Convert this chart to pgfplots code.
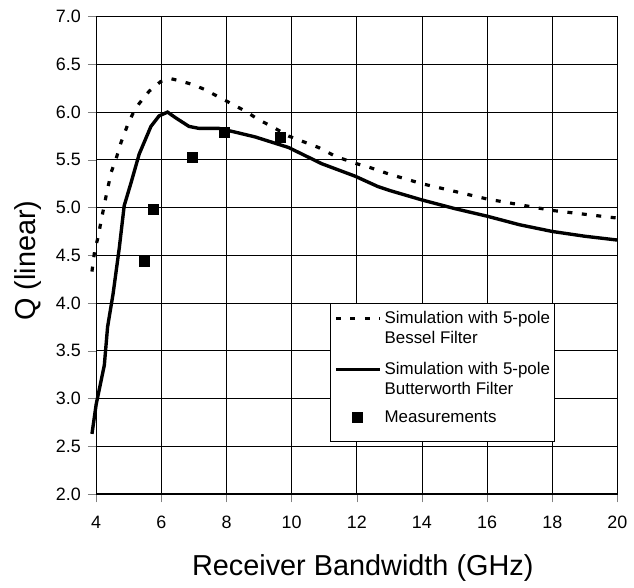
\documentclass[border=0pt]{standalone}
\usepackage{fontspec}
\setmainfont{Liberation Sans}
\usepackage{pgfplots}
\pgfplotsset{compat=1.18}

\begin{document}
\begin{tikzpicture}
\begin{axis}[
  scale only axis, width=262pt, height=240pt,
  xmin=4, xmax=20, ymin=2, ymax=7,
  xtick={4,6,...,20}, ytick={2,2.5,...,7},
  yticklabel style={/pgf/number format/.cd,fixed,fixed zerofill,precision=1},
  xticklabel style={yshift=-3.5pt},
  /pgf/number format/assume math mode=true,
  tick label style={font=\fontsize{9}{10}\selectfont},
  tick align=outside, tick pos=left, major tick length=4.2pt,
  grid=major, grid style={black, line width=0.45pt},
  axis line style={line width=0.6pt},
  clip=false,
  xlabel={Receiver Bandwidth (GHz)}, ylabel={Q (linear)},
  label style={font=\fontsize{14.5}{16}\selectfont},
  x label style={at={(axis description cs:0.5,0)}, anchor=base, yshift=-40.7pt, xshift=3pt},
  y label style={at={(axis description cs:-0.130,0.489)}, anchor=center},
  legend cell align=left,
  legend style={at={(0.450,0.399)}, anchor=north west, draw=none, fill=none,
    font=\fontsize{8.5}{10}\selectfont, nodes={align=left, inner xsep=1.7pt},
    cells={anchor=base west},
    inner ysep=1pt, inner xsep=1.5pt, row sep=12.8pt},
  legend image code/.code={\draw[mark repeat=2, mark phase=2, #1] plot coordinates {(0pt,2.5pt) (11pt,2.5pt) (22pt,2.5pt)};},
]
\coordinate (O) at (rel axis cs:0,0);
% legend frame
\filldraw[fill=white, draw=black, line width=0.5pt]
  (rel axis cs:0.4504,0.1098) rectangle (rel axis cs:0.879,0.3994);
\addplot[black, line width=1.6pt, dash pattern=on 2.5pt off 4.8pt] coordinates {
(3.87,4.33) (3.95,4.54) (4.07,4.71) (4.15,4.86) (4.31,5.13) (4.46,5.37) (4.61,5.51)
(4.76,5.68) (4.97,5.87) (5.12,5.98) (5.32,6.09) (5.63,6.22) (5.98,6.32) (6.29,6.35)
(6.54,6.33) (6.95,6.29) (7.31,6.24) (7.92,6.13) (8.58,6.01) (8.99,5.92) (9.39,5.85)
(9.90,5.75) (10.82,5.63) (11.33,5.54) (11.89,5.47) (12.40,5.42) (13,5.35) (14,5.25)
(15,5.17) (16,5.09) (17,5.03) (18,4.97) (19,4.93) (20,4.89)
};
\addlegendentry{\begin{tabular}[t]{@{}l@{}}Simulation with 5-pole\\Bessel Filter\end{tabular}}
\addplot[black, line width=1.7pt] coordinates {
(3.87,2.63) (4.0,2.94) (4.25,3.35) (4.35,3.75) (4.52,4.10) (4.71,4.58) (4.86,5.02)
(5.07,5.26) (5.32,5.56) (5.68,5.85) (5.93,5.96) (6.19,6.00) (6.44,5.94) (6.85,5.85)
(7.15,5.83) (7.76,5.83) (8.27,5.79) (8.88,5.74) (9.90,5.63) (10.92,5.46) (11.94,5.33)
(12.65,5.22) (13,5.18) (14,5.08) (15,4.99) (16,4.91) (17,4.82) (18,4.75) (19,4.70) (20,4.66)
};
\addlegendentry{\begin{tabular}[t]{@{}l@{}}Simulation with 5-pole\\Butterworth Filter\end{tabular}}
\addplot[only marks, mark=square*, mark size=2.5pt, black] coordinates {
(5.47,4.44) (5.75,4.98) (6.95,5.53) (7.94,5.79) (9.65,5.74)
};
\addlegendentry{Measurements}
\end{axis}
\path (O) ++(-48.35pt,-44.15pt) rectangle ++(317pt,292.5pt);
\end{tikzpicture}
\end{document}
